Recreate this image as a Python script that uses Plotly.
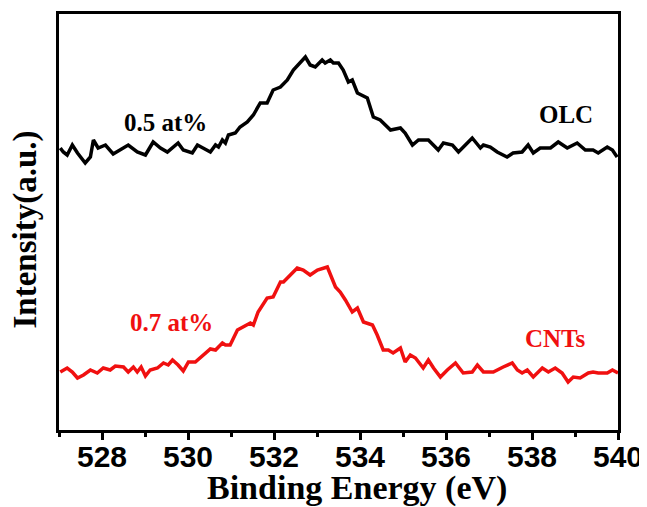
import plotly.graph_objects as go

# OLC (black) spectrum: binding energy (eV) and intensity (a.u.)
olc_energy = [527.03, 527.10, 527.19, 527.31, 527.43, 527.61, 527.73, 527.80, 527.91, 528.08,
              528.26, 528.43, 528.61, 528.82, 529.01, 529.19, 529.36, 529.52, 529.77, 529.89,
              530.10, 530.22, 530.36, 530.52, 530.64, 530.71, 530.80, 530.87, 530.94, 531.10,
              531.21, 531.38, 531.52, 531.68, 531.84, 531.98, 532.15, 532.31, 532.45, 532.61,
              532.73, 532.84, 532.96, 533.12, 533.19, 533.31, 533.38, 533.50, 533.61, 533.73,
              533.82, 533.94, 534.05, 534.17, 534.31, 534.47, 534.71, 534.94, 535.05, 535.22,
              535.36, 535.59, 535.82, 535.94, 536.15, 536.29, 536.45, 536.61, 536.80, 536.87,
              537.03, 537.19, 537.42, 537.56, 537.77, 537.91, 538.03, 538.19, 538.43, 538.61,
              538.82, 539.05, 539.24, 539.42, 539.54, 539.75, 539.87, 539.98]
olc_intensity = [282, 278, 275, 285, 277, 267, 273, 290, 282, 285,
                 276, 280, 285, 278, 275, 288, 282, 278, 287, 280,
                 277, 285, 282, 278, 285, 283, 290, 287, 295, 297,
                 303, 308, 315, 327, 327, 340, 343, 350, 360, 367,
                 373, 365, 363, 370, 367, 370, 367, 367, 360, 348,
                 350, 337, 335, 332, 313, 310, 300, 302, 297, 285,
                 290, 290, 280, 287, 285, 278, 285, 292, 282, 285,
                 283, 278, 273, 277, 278, 285, 277, 282, 282, 288,
                 282, 287, 280, 280, 277, 283, 280, 273]

# CNTs (red) spectrum
cnt_energy = [527.03, 527.19, 527.31, 527.43, 527.57, 527.73, 527.89, 528.03, 528.19, 528.31,
              528.50, 528.61, 528.73, 528.82, 528.91, 529.01, 529.12, 529.29, 529.43, 529.54,
              529.64, 529.77, 529.89, 530.01, 530.17, 530.36, 530.52, 530.64, 530.80, 530.87,
              530.98, 531.15, 531.29, 531.45, 531.52, 531.63, 531.84, 531.98, 532.15, 532.22,
              532.38, 532.54, 532.68, 532.84, 533.01, 533.24, 533.43, 533.54, 533.66, 533.82,
              533.94, 534.08, 534.29, 534.40, 534.54, 534.66, 534.77, 534.94, 535.05, 535.17,
              535.29, 535.47, 535.59, 535.71, 535.87, 536.03, 536.22, 536.40, 536.61, 536.73,
              536.87, 537.10, 537.33, 537.54, 537.66, 537.77, 537.89, 538.03, 538.24, 538.38,
              538.54, 538.70, 538.84, 538.96, 539.12, 539.31, 539.42, 539.54, 539.75, 539.87,
              540.00]
cnt_intensity = [58, 62, 58, 52, 55, 60, 57, 62, 60, 64,
                 63, 58, 63, 58, 63, 54, 60, 62, 67, 65,
                 70, 65, 59, 68, 68, 75, 81, 80, 87, 85,
                 85, 100, 103, 107, 105, 118, 132, 133, 148, 148,
                 155, 162, 160, 155, 160, 163, 143, 138, 130, 118,
                 122, 108, 105, 95, 80, 80, 77, 82, 68, 75,
                 72, 62, 70, 62, 53, 60, 67, 57, 58, 65,
                 58, 58, 63, 67, 60, 57, 60, 53, 62, 58,
                 62, 57, 48, 53, 52, 57, 58, 57, 57, 60,
                 57]

tick_vals = [528, 530, 532, 534, 536, 538, 540]
tick_text = ["528", "530", "532", "534", "536", "538", "540"]

x_title = "Binding Energy (eV)"
y_title = "Intensity(a.u.)"

RED = "#f01010"
serif = "Liberation Serif"
sans = "Liberation Sans"

fig = go.Figure()
fig.add_trace(go.Scatter(x=olc_energy, y=olc_intensity, mode="lines",
                         line=dict(color="black", width=3.5), showlegend=False))
fig.add_trace(go.Scatter(x=cnt_energy, y=cnt_intensity, mode="lines",
                         line=dict(color=RED, width=3.5), showlegend=False))

annots = [
    dict(x=529.47, y=308, text="0.5 at%", color="black"),
    dict(x=538.80, y=316, text="OLC", color="black"),
    dict(x=529.61, y=108, text="0.7 at%", color=RED),
    dict(x=538.54, y=92, text="CNTs", color=RED),
]
for a in annots:
    fig.add_annotation(x=a["x"], y=a["y"], text="<b>%s</b>" % a["text"], showarrow=False,
                       font=dict(family=serif, size=25, color=a["color"]),
                       xanchor="center", yanchor="middle")

# axis titles
fig.add_annotation(xref="paper", yref="paper", x=0.533, y=-0.14, text="<b>%s</b>" % x_title,
                   showarrow=False, xanchor="center", yanchor="middle",
                   font=dict(family=serif, size=34, color="black"))
fig.add_annotation(xref="paper", yref="paper", x=-0.06, y=0.483, text="<b>%s</b>" % y_title,
                   showarrow=False, xanchor="center", yanchor="middle", textangle=-90,
                   font=dict(family=serif, size=33, color="black"))

# page body has an 8px default margin, so the figure is offset by 8px
fig.update_layout(
    width=639, height=499,
    margin=dict(l=51, r=29, t=6, b=77),
    paper_bgcolor="white", plot_bgcolor="white",
    xaxis=dict(range=[527, 540], tickvals=tick_vals,
               ticktext=["<b>%s</b>" % t for t in tick_text],
               ticks="outside", ticklen=7, tickwidth=3, tickcolor="black",
               ticklabelstandoff=-9,
               minor=dict(dtick=1, tick0=527, ticks="outside", ticklen=4, tickwidth=3, tickcolor="black"),
               showline=True, linewidth=3, linecolor="black", mirror=True,
               showgrid=False, zeroline=False, automargin=False,
               tickfont=dict(family=sans, size=30, color="black")),
    yaxis=dict(range=[0, 416], showticklabels=False, ticks="",
               showline=True, linewidth=3, linecolor="black", mirror=True,
               showgrid=False, zeroline=False, automargin=False),
)

fig.write_html("out.html")
